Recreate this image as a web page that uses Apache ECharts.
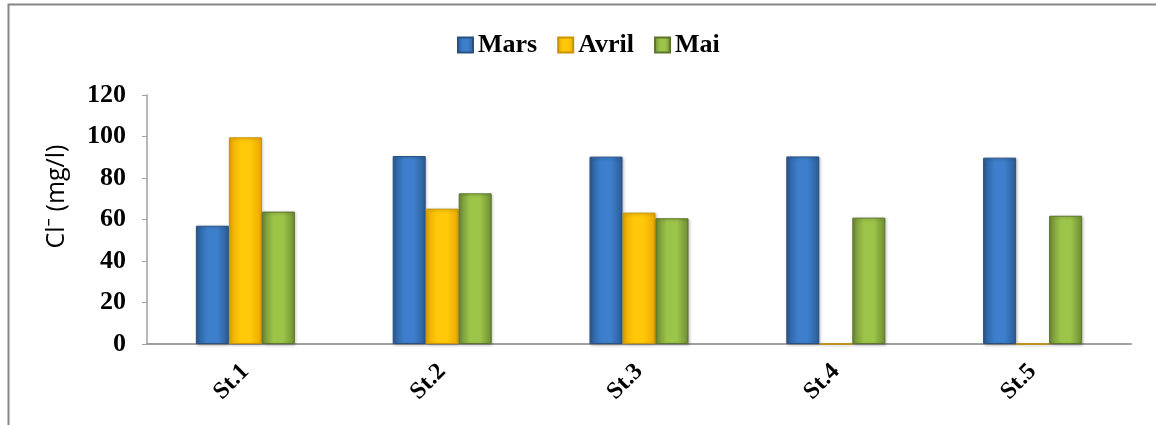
<!DOCTYPE html>
<html>
<head>
<meta charset="utf-8">
<script src="https://cdn.jsdelivr.net/npm/echarts@6/dist/echarts.min.js"></script>
<style>
  html, body { margin: 0; padding: 0; background: #fff; }
  #chart { width: 1156px; height: 425px; }
</style>
</head>
<body>
<div id="chart"></div>
<script>
  const stations = ['St.1', 'St.2', 'St.3', 'St.4', 'St.5'];
  const mars = [57, 90.6, 90.3, 90.4, 89.8];
  const avril = [99.6, 65.2, 63.3, 0, 0];
  const mai = [63.8, 72.6, 60.6, 60.9, 61.8];
  const yTicks = [0, 20, 40, 60, 80, 100, 120];

  const serif = '"Liberation Serif", "DejaVu Serif", serif';

  function barFill(edge, mid) {
    return {
      type: 'linear', x: 0, y: 0, x2: 1, y2: 0,
      colorStops: [
        { offset: 0, color: edge },
        { offset: 0.35, color: mid },
        { offset: 0.65, color: mid },
        { offset: 1, color: edge },
      ],
    };
  }

  function barSeries(name, data, edge, mid, border) {
    return {
      name,
      type: 'bar',
      data,
      barWidth: 33,
      barGap: '0%',
      itemStyle: {
        color: barFill(edge, mid),
        borderColor: border,
        borderWidth: 1,
        shadowColor: 'rgba(0,0,0,0.25)',
        shadowBlur: 3,
        shadowOffsetX: 1,
        shadowOffsetY: 1,
      },
    };
  }

  const chart = echarts.init(document.getElementById('chart'));
  chart.setOption({
    animation: false,
    backgroundColor: '#fff',
    graphic: [
      {
        type: 'rect',
        shape: { x: 8.5, y: 4.5, width: 1200, height: 500 },
        style: { fill: 'none', stroke: '#868686', lineWidth: 2 },
        silent: true,
      },
    ],
    legend: {
      left: 457,
      top: 32,
      padding: 0,
      itemWidth: 15,
      itemHeight: 15,
      itemGap: 20,
      icon: 'rect',
      textStyle: { fontFamily: serif, fontWeight: 'bold', fontSize: 26, color: '#000' },
      data: ['Mars', 'Avril', 'Mai'],
    },
    grid: { left: 147, right: 25, top: 95, bottom: 81 },
    xAxis: {
      type: 'category',
      data: stations,
      axisLine: { lineStyle: { color: '#a0a0a0', width: 2 } },
      axisTick: { show: false },
      axisLabel: {
        rotate: 45,
        margin: 24,
        fontFamily: serif,
        fontWeight: 'bold',
        fontSize: 24,
        color: '#000',
      },
    },
    yAxis: {
      type: 'value',
      min: yTicks[0],
      max: yTicks[yTicks.length - 1],
      interval: 20,
      name: 'Cl\u207B (mg/l)',
      nameLocation: 'middle',
      nameGap: 78,
      nameTextStyle: {
        fontFamily: '"Open Sans", "Noto Sans", sans-serif',
        fontSize: 25,
        color: '#000',
        padding: [0, 0, 0, 46],
      },
      axisLine: { show: true, lineStyle: { color: '#a0a0a0', width: 1.5 } },
      axisTick: { show: true, length: 5, lineStyle: { color: '#a0a0a0' } },
      splitLine: { show: false },
      axisLabel: {
        margin: 21,
        fontFamily: serif,
        fontWeight: 'bold',
        fontSize: 26,
        color: '#000',
      },
    },
    series: [
      barSeries('Mars', mars, '#2c5b94', '#3d7fcc', '#2a5080'),
      barSeries('Avril', avril, '#e9a800', '#ffc809', '#c99400'),
      barSeries('Mai', mai, '#6f8c34', '#9cc449', '#5c752a'),
    ],
  });
</script>
</body>
</html>
